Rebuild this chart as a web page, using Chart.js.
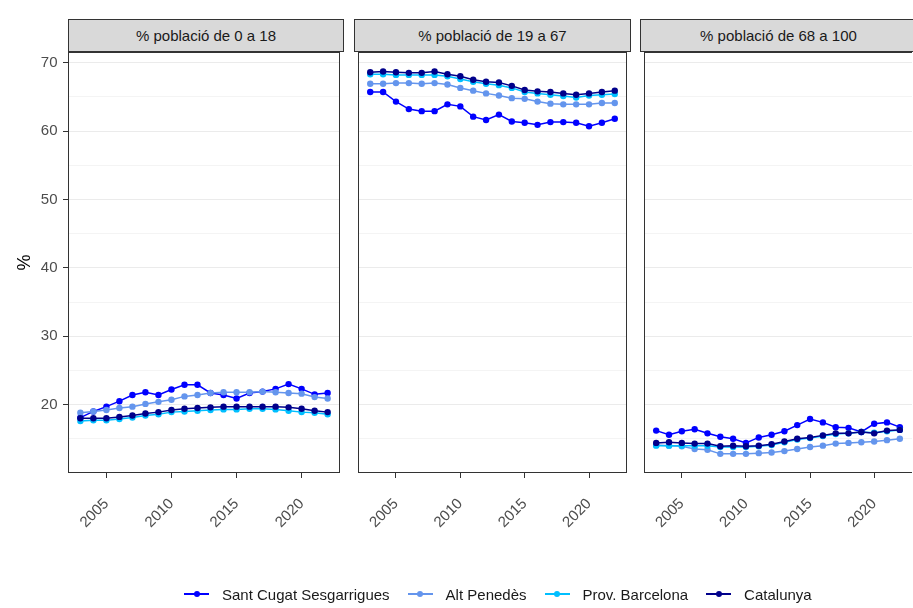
<!DOCTYPE html>
<html><head><meta charset="utf-8">
<script src="https://cdn.jsdelivr.net/npm/chart.js@4/dist/chart.umd.min.js"></script>
<style>
html,body{margin:0;padding:0;background:#fff;overflow:hidden;width:913px;height:608px;}
#wrap{position:relative;width:913px;height:608px;overflow:hidden;font-family:"Liberation Sans",Arial,sans-serif;}
.cv{position:absolute;top:0;height:608px;}
.strip{position:absolute;top:19px;height:33px;background:#D9D9D9;border:1px solid #333;box-sizing:border-box;color:#1a1a1a;font-size:15px;display:flex;align-items:center;justify-content:center;}
.legend{position:absolute;top:584px;left:184px;height:20px;display:flex;align-items:center;font-size:15px;color:#1a1a1a;white-space:nowrap;}
.item{display:flex;align-items:center;margin-right:18px;}
.key{position:relative;width:25px;height:20px;margin-right:13px;}
.key .ln{position:absolute;left:0;right:0;top:9px;height:2px;}
.key .pt{position:absolute;left:9.5px;top:7px;width:6px;height:6px;border-radius:50%;}
</style></head>
<body>
<div id="wrap">
  <canvas id="c1" class="cv" style="left:0px" width="344" height="608"></canvas>
  <canvas id="c2" class="cv" style="left:354px" width="277" height="608"></canvas>
  <canvas id="c3" class="cv" style="left:640px" width="276" height="608"></canvas>
  <div id="strips"></div>
  <div class="legend" id="legend"></div>
</div>
<script>
// ---- data ----
const years = [2003, 2004, 2005, 2006, 2007, 2008, 2009, 2010, 2011, 2012, 2013, 2014, 2015, 2016, 2017, 2018, 2019, 2020, 2021, 2022];
const seriesNames = ["Sant Cugat Sesgarrigues", "Alt Penedès", "Prov. Barcelona", "Catalunya"];
const panelTitles = ["% població de 0 a 18", "% població de 19 a 67", "% població de 68 a 100"];

// % població de 0 a 18
const santCugat_0_18 = [18.1, 19.0, 19.7, 20.5, 21.4, 21.8, 21.4, 22.2, 22.9, 22.9, 21.7, 21.4, 20.9, 21.7, 21.9, 22.3, 23.0, 22.3, 21.5, 21.7];
const altPenedes_0_18 = [18.8, 19.0, 19.2, 19.5, 19.7, 20.1, 20.4, 20.7, 21.2, 21.4, 21.7, 21.8, 21.8, 21.8, 21.9, 21.8, 21.7, 21.6, 21.1, 20.9];
const provBarcelona_0_18 = [17.6, 17.7, 17.7, 17.9, 18.1, 18.4, 18.6, 18.9, 19.0, 19.1, 19.2, 19.3, 19.3, 19.4, 19.4, 19.3, 19.1, 18.9, 18.8, 18.6];
const catalunya_0_18 = [18.0, 18.0, 18.0, 18.2, 18.4, 18.7, 18.9, 19.2, 19.4, 19.5, 19.6, 19.7, 19.7, 19.7, 19.7, 19.7, 19.6, 19.4, 19.1, 18.9];

// % població de 19 a 67
const santCugat_19_67 = [65.7, 65.7, 64.3, 63.2, 62.9, 62.9, 63.9, 63.6, 62.1, 61.6, 62.4, 61.4, 61.2, 60.9, 61.3, 61.3, 61.2, 60.7, 61.2, 61.8];
const altPenedes_19_67 = [66.9, 66.9, 67.0, 67.0, 66.9, 67.0, 66.8, 66.3, 65.9, 65.5, 65.2, 64.8, 64.7, 64.3, 64.0, 63.9, 63.9, 63.9, 64.1, 64.1];
const provBarcelona_19_67 = [68.3, 68.3, 68.2, 68.2, 68.2, 68.2, 68.0, 67.6, 67.2, 66.9, 66.7, 66.3, 65.7, 65.5, 65.3, 65.1, 64.9, 65.2, 65.3, 65.4];
const catalunya_19_67 = [68.6, 68.7, 68.6, 68.5, 68.5, 68.7, 68.3, 68.0, 67.5, 67.2, 67.1, 66.6, 66.0, 65.8, 65.7, 65.5, 65.3, 65.5, 65.7, 65.9];

// % població de 68 a 100
const santCugat_68_100 = [16.2, 15.6, 16.1, 16.4, 15.8, 15.3, 15.0, 14.4, 15.2, 15.6, 16.1, 17.0, 17.9, 17.4, 16.7, 16.6, 16.0, 17.2, 17.4, 16.7];
const altPenedes_68_100 = [14.1, 14.0, 13.9, 13.5, 13.4, 12.8, 12.8, 12.8, 12.9, 13.0, 13.2, 13.5, 13.8, 14.0, 14.3, 14.4, 14.5, 14.6, 14.8, 15.0];
const provBarcelona_68_100 = [14.0, 14.0, 14.0, 14.0, 14.0, 13.8, 13.8, 13.8, 13.9, 14.1, 14.5, 14.9, 15.1, 15.4, 15.7, 15.8, 16.0, 15.9, 16.1, 16.3];
const catalunya_68_100 = [14.4, 14.5, 14.4, 14.3, 14.3, 13.9, 14.0, 13.9, 14.0, 14.2, 14.6, 15.0, 15.2, 15.5, 15.8, 15.8, 16.0, 15.8, 16.2, 16.3];

const xTickValues = [2005, 2010, 2015, 2020];
const xTickLabels = ["2005", "2010", "2015", "2020"];
const yTickValues = [20, 30, 40, 50, 60, 70];
const yTickLabels = ["20", "30", "40", "50", "60", "70"];
const yMinorValues = [15, 25, 35, 45, 55, 65];
const yAxisTitle = "%";

// ---- styles ----
const colors = ["#0000FF", "#6495ED", "#00BFFF", "#00008B"];
const FONT = '"Liberation Sans", Arial, sans-serif';

const panels = [
  [santCugat_0_18, altPenedes_0_18, provBarcelona_0_18, catalunya_0_18],
  [santCugat_19_67, altPenedes_19_67, provBarcelona_19_67, catalunya_19_67],
  [santCugat_68_100, altPenedes_68_100, provBarcelona_68_100, catalunya_68_100]
];

function makeBorderPlugin(drawRight) {
  return {
    id: 'panelBorder',
    afterDraw(chart) {
      const {ctx, chartArea: a} = chart;
      const l = Math.round(a.left) + 0.5, t = Math.round(a.top) + 0.5;
      const r = Math.round(a.right) - 0.5, b = Math.round(a.bottom) - 0.5;
      ctx.save();
      ctx.strokeStyle = '#333333';
      ctx.lineWidth = 1;
      ctx.beginPath();
      if (drawRight) { ctx.moveTo(r, t); ctx.lineTo(r, b); }
      ctx.moveTo(l, t); ctx.lineTo(l, b);
      ctx.moveTo(l - 0.5, b); ctx.lineTo(r + 0.5, b);
      ctx.moveTo(l - 0.5, t); ctx.lineTo(r + 0.5, t);
      ctx.stroke();
      ctx.restore();
    }
  };
}

function makeChart(id, series, first, drawRight) {
  const allY = yTickValues.concat(yMinorValues).sort((a, b) => a - b);
  return new Chart(document.getElementById(id), {
    type: 'line',
    data: {
      datasets: seriesNames.map((name, i) => ({
        label: name,
        data: years.map((yr, j) => ({x: yr, y: series[i][j]})),
        borderColor: colors[i],
        backgroundColor: colors[i],
        pointBackgroundColor: colors[i],
        pointBorderWidth: 0,
        pointRadius: 3.2,
        borderWidth: 1.5,
        tension: 0,
        order: 3 - i
      }))
    },
    options: {
      responsive: false,
      animation: false,
      devicePixelRatio: 1,
      layout: {padding: {top: 52, left: 0, right: 0, bottom: 0}},
      plugins: {legend: {display: false}, tooltip: {enabled: false}},
      scales: {
        x: {
          type: 'linear',
          min: 2002.05,
          max: 2022.95,
          afterBuildTicks: s => { s.ticks = xTickValues.map(v => ({value: v})); },
          afterFit: s => { s.height = 135; },
          border: {display: false},
          grid: {drawOnChartArea: false, tickLength: 5, tickColor: '#333333', color: '#333333'},
          ticks: {
            autoSkip: false, minRotation: 45, maxRotation: 45,
            color: '#4D4D4D', font: {family: FONT, size: 15}, padding: 17,
            callback: (v) => xTickLabels[xTickValues.indexOf(v)]
          }
        },
        y: {
          min: 10,
          max: 71.55,
          afterBuildTicks: s => { s.ticks = allY.map(v => ({value: v})); },
          afterFit: s => { s.width = first ? 68 : 0; },
          border: {display: false},
          grid: {
            color: c => (c.tick && c.tick.value % 10 === 0) ? '#EBEBEB' : '#F4F4F4',
            tickColor: c => (c.tick && c.tick.value % 10 === 0) ? '#333333' : 'rgba(0,0,0,0)',
            tickLength: 5,
            drawTicks: first
          },
          ticks: {
            display: first,
            autoSkip: false,
            color: '#4D4D4D', font: {family: FONT, size: 15}, padding: 5.5,
            callback: (v) => { const k = yTickValues.indexOf(v); return k >= 0 ? yTickLabels[k] : ''; }
          },
          title: {
            display: first, text: yAxisTitle, color: '#000000',
            font: {family: FONT, size: 18}, padding: {top: 14, bottom: 0}
          }
        }
      }
    },
    plugins: [makeBorderPlugin(drawRight)]
  });
}

makeChart('c1', panels[0], true, true);
makeChart('c2', panels[1], false, true);
makeChart('c3', panels[2], false, false);

// strips
const stripPos = [[68, 276], [354, 277], [640, 280]];
const stripsEl = document.getElementById('strips');
panelTitles.forEach((t, i) => {
  const d = document.createElement('div');
  d.className = 'strip';
  d.style.left = stripPos[i][0] + 'px';
  d.style.width = stripPos[i][1] + 'px';
  if (i === 2) { d.style.borderRight = 'none'; d.style.paddingRight = '4px'; }
  d.textContent = t;
  stripsEl.appendChild(d);
});

// legend
const lg = document.getElementById('legend');
seriesNames.forEach((n, i) => {
  const it = document.createElement('div'); it.className = 'item';
  const k = document.createElement('div'); k.className = 'key';
  const ln = document.createElement('div'); ln.className = 'ln'; ln.style.background = colors[i];
  const pt = document.createElement('div'); pt.className = 'pt'; pt.style.background = colors[i];
  k.appendChild(ln); k.appendChild(pt);
  const tx = document.createElement('span'); tx.textContent = n;
  it.appendChild(k); it.appendChild(tx);
  lg.appendChild(it);
});
</script>
</body></html>
